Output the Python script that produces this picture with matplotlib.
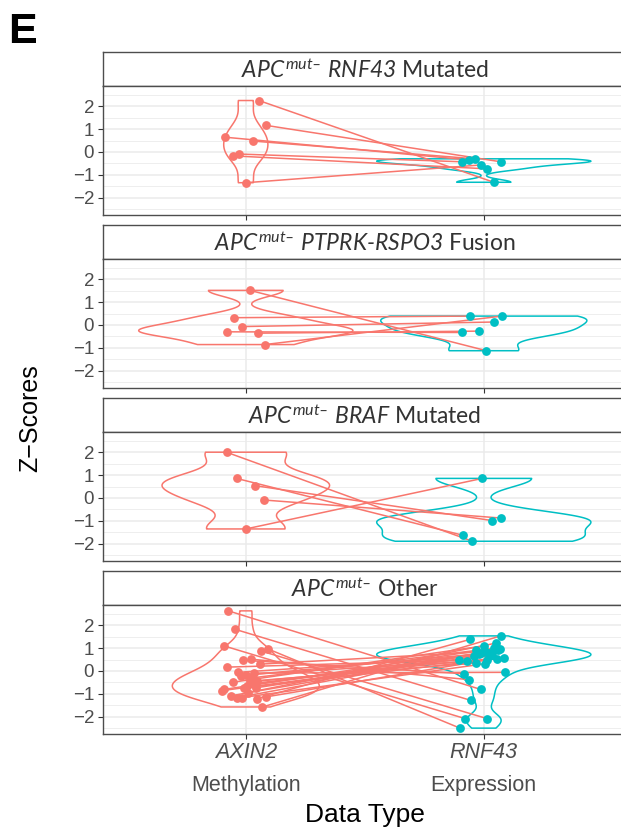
import numpy as np
import matplotlib
matplotlib.use('Agg')
import matplotlib.pyplot as plt
import matplotlib.transforms as mtransforms

plt.rcParams['mathtext.fontset'] = 'custom'
plt.rcParams['mathtext.it'] = 'Lato:italic'
plt.rcParams['mathtext.rm'] = 'Lato:italic'
plt.rcParams['mathtext.bf'] = 'Lato:bold'

RED = '#F8766D'
CYAN = '#00BFC4'

categories = ['AXIN2', 'RNF43']
data_types = ['Methylation', 'Expression']

titles = [
    '$\\mathit{APC}^{\\mathit{mut}\u2013}$ $\\mathit{RNF43}$ Mutated',
    '$\\mathit{APC}^{\\mathit{mut}\u2013}$ $\\mathit{PTPRK\u2010RSPO3}$ Fusion',
    '$\\mathit{APC}^{\\mathit{mut}\u2013}$ $\\mathit{BRAF}$ Mutated',
    '$\\mathit{APC}^{\\mathit{mut}\u2013}$ Other',
]

# z-scores, one entry per sample (AXIN2 methylation paired with RNF43 expression)
axin2_p1 = [2.26, 1.17, 0.65, 0.48, -0.09, -0.17, -1.35]
rnf43_p1 = [-1.33, -0.43, -0.35, -0.30, -0.43, -0.74, -0.57]
axin2_p2 = [1.52, 0.32, -0.07, -0.30, -0.36, -0.86]
rnf43_p2 = [-1.13, 0.39, 0.13, -0.33, -0.27, 0.39]
axin2_p3 = [2.01, 0.86, 0.54, -0.09, -1.36]
rnf43_p3 = [-1.90, -1.64, -0.99, -0.88, 0.86]
axin2_p4 = [2.64, 1.83, 1.10, 0.96, 0.88, 0.52, 0.47, 0.17, -0.06, -0.09,
            -0.16, -0.30, -0.45, -0.45, -0.49, -0.64, -0.74, -0.74, -0.81, -0.86,
            -1.10, -1.17, -1.17, -1.22, -1.14, -1.58, 0.30, -0.20, -0.55, -0.95]
rnf43_p4 = [-0.81, -1.29, -2.09, -2.51, -2.09, -0.38, -0.12, 0.47, 0.64, -0.06,
            0.42, 0.90, 0.35, 0.59, 1.10, 0.78, 0.81, 0.54, 1.00, 0.71,
            1.22, 0.96, 0.32, 1.39, 0.49, 1.54, 0.85, 0.75, 0.68, 0.92]

# horizontal jitter
jit_axin2_p1 = [0.055, 0.084, -0.088, 0.03, -0.03, -0.055, 0.0]
jit_rnf43_p1 = [0.042, 0.071, -0.063, -0.038, -0.092, 0.013, -0.013]
jit_axin2_p2 = [0.017, -0.05, -0.017, -0.08, 0.05, 0.08]
jit_rnf43_p2 = [0.011, -0.056, 0.043, -0.09, -0.022, 0.076]
jit_axin2_p3 = [-0.081, -0.039, 0.039, 0.077, 0.0]
jit_rnf43_p3 = [-0.048, -0.087, 0.034, 0.071, -0.006]
jit_axin2_p4 = [-0.073, -0.045, -0.091, 0.095, 0.063, 0.021, -0.011, -0.077, -0.032, 0.035,
                0.0, 0.028, 0.018, 0.049, -0.052, 0.007, 0.042, -0.007, -0.091, -0.098,
                -0.063, -0.038, -0.017, 0.045, 0.084, 0.07, 0.06, -0.02, 0.03, 0.01]
jit_rnf43_p4 = [-0.013, -0.055, -0.079, -0.1, 0.013, -0.062, -0.083, -0.104, -0.041, 0.089,
                -0.071, -0.034, -0.034, 0.085, -0.001, -0.013, 0.022, 0.057, 0.043, 0.029,
                0.05, 0.069, 0.006, -0.057, 0.015, 0.071, 0.01, -0.02, 0.035, 0.06]

panels = [
    (axin2_p1, rnf43_p1, jit_axin2_p1, jit_rnf43_p1),
    (axin2_p2, rnf43_p2, jit_axin2_p2, jit_rnf43_p2),
    (axin2_p3, rnf43_p3, jit_axin2_p3, jit_rnf43_p3),
    (axin2_p4, rnf43_p4, jit_axin2_p4, jit_rnf43_p4),
]


def ydensity(values, n=512):
    v = np.asarray(values, dtype=float)
    sd = v.std(ddof=1)
    q75, q25 = np.percentile(v, [75, 25])
    bw = 0.9 * min(sd, (q75 - q25) / 1.34) * len(v) ** -0.2
    grid = np.linspace(v.min(), v.max(), n)
    dens = np.exp(-0.5 * ((grid[:, None] - v[None, :]) / bw) ** 2).sum(1)
    dens /= len(v) * bw * np.sqrt(2 * np.pi)
    return grid, dens


W, H = 621, 832
fig = plt.figure(figsize=(W / 100, H / 100), dpi=100)


def rect(left, top, w, h):
    return [left / W, 1 - (top + h) / H, w / W, h / H]


allv = np.concatenate([np.r_[a, b] for a, b, _, _ in panels])
lo, hi = allv.min(), allv.max()
pad = 0.05 * (hi - lo)

left, width = 103, 523.6
strip_tops = [52, 225, 398, 571]
strip_h, plot_h = 34, 129
border = '#4d4d4d'

for i, (a, b, ja, jb) in enumerate(panels):
    st = strip_tops[i]
    sax = fig.add_axes(rect(left, st, width, strip_h))
    sax.set_xticks([])
    sax.set_yticks([])
    for s in sax.spines.values():
        s.set_color(border)
        s.set_linewidth(1.0)
    sax.text(0.5, 0.47, titles[i], transform=sax.transAxes, ha='center', va='center',
             fontsize=16.5, family='Lato', color='#333333')

    ax = fig.add_axes(rect(left, st + strip_h, width, plot_h))
    ax.set_xlim(0.4, 2.6)
    ax.set_ylim(lo - pad, hi + pad)
    ax.set_yticks([-2, -1, 0, 1, 2])
    ax.set_yticks(np.arange(-2.5, 3.0, 1.0), minor=True)
    ax.set_xticks([1, 2])
    ax.grid(True, which='major', color='#EBEBEB', lw=1.1, zorder=0)
    ax.grid(True, which='minor', axis='y', color='#EBEBEB', lw=0.6, zorder=0)
    ax.set_axisbelow(True)
    ax.tick_params(axis='y', which='major', length=3.4, width=0.8, color='#333333',
                   labelsize=13.5, labelcolor='#4D4D4D', pad=3)
    ax.tick_params(axis='y', which='minor', length=0)
    ax.tick_params(axis='x', length=3.4, width=0.8, color='#333333', labelbottom=False)
    for lab in ax.get_yticklabels():
        lab.set_family('Liberation Sans')
    for s in ax.spines.values():
        s.set_color(border)
        s.set_linewidth(1.0)

    ga, da = ydensity(a)
    gb, db = ydensity(b)
    m = max(da.max(), db.max())
    ax.fill_betweenx(ga, 1 - 0.45 * da / m, 1 + 0.45 * da / m,
                     facecolor='none', edgecolor=RED, lw=1.1, zorder=2)
    ax.fill_betweenx(gb, 2 - 0.45 * db / m, 2 + 0.45 * db / m,
                     facecolor='none', edgecolor=CYAN, lw=1.1, zorder=2)

    xa = 1 + np.asarray(ja)
    xb = 2 + np.asarray(jb)
    for k in range(len(a)):
        ax.plot([xa[k], xb[k]], [a[k], b[k]], color=RED, lw=1.1, zorder=3)
    ax.scatter(xa, a, s=40, color=RED, zorder=4, linewidths=0)
    ax.scatter(xb, b, s=40, color=CYAN, zorder=4, linewidths=0)

# x tick labels on the bottom panel
tr = mtransforms.blended_transform_factory(ax.transData, fig.transFigure)
for k, (cat, dt) in enumerate(zip(categories, data_types)):
    ax.text(k + 1, 1 - 752 / H, cat, transform=tr, ha='center', va='center',
            fontsize=15.5, style='italic', family='Liberation Sans', color='#4D4D4D')
    ax.text(k + 1, 1 - 785 / H, dt, transform=tr, ha='center', va='center',
            fontsize=15.5, family='Liberation Sans', color='#4D4D4D')

fig.text((left + width / 2) / W, 1 - 815 / H, 'Data Type', ha='center', va='center',
         fontsize=19, family='Liberation Sans', color='black')
fig.text(30 / W, 1 - 418 / H, 'Z\u2212Scores', ha='center', va='center', rotation=90,
         fontsize=18, family='Liberation Sans', color='black')
fig.text(8 / W, 1 - 43 / H, 'E', ha='left', va='baseline', fontsize=31,
         fontweight='bold', family='Liberation Sans', color='black')

fig.savefig('out.png', dpi=100)
